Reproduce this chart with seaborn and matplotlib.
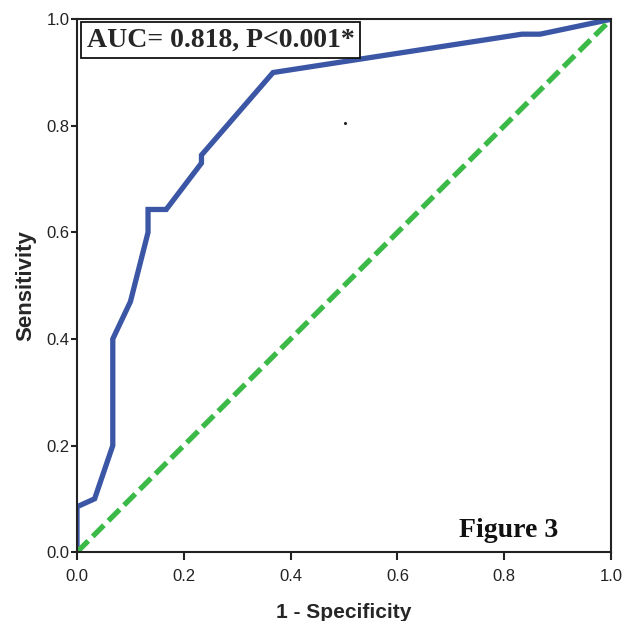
import matplotlib
matplotlib.use("Agg")
import matplotlib.pyplot as plt
import seaborn as sns
import pandas as pd

fpr = [0.0, 0.0, 0.033, 0.067, 0.067, 0.100, 0.133, 0.133, 0.167, 0.233, 0.233, 0.367, 0.833, 0.867, 1.0]
tpr = [0.0, 0.085, 0.100, 0.200, 0.400, 0.470, 0.600, 0.643, 0.643, 0.730, 0.745, 0.900, 0.972, 0.972, 1.0]
ref_x = [0.0, 1.0]
ref_y = [0.0, 1.0]
dot_x = [0.502]
dot_y = [0.806]
ticks = [0.0, 0.2, 0.4, 0.6, 0.8, 1.0]
tick_labels = ["0.0", "0.2", "0.4", "0.6", "0.8", "1.0"]

sns.set_style("white")
plt.rcParams['font.family'] = ['Liberation Sans', 'DejaVu Sans']

fig = plt.figure(figsize=(6.23, 6.21), dpi=100)
ax = fig.add_axes([0.1236, 0.111, 0.8574, 0.858])

roc = pd.DataFrame({"fpr": fpr, "tpr": tpr})
sns.lineplot(data=roc, x="fpr", y="tpr", ax=ax, color="#3c56a6", lw=3.8,
             sort=False, estimator=None, solid_joinstyle="miter")
ax.plot(ref_x, ref_y, color="#3cba48", lw=3.8, linestyle=(0, (3.0, 1.2)))
ax.scatter(dot_x, dot_y, s=1.5, color="#222222", zorder=3)

ax.set_xlim(0, 1)
ax.set_ylim(0, 1)
ax.set_xticks(ticks)
ax.set_xticklabels(tick_labels)
ax.set_yticks(ticks)
ax.set_yticklabels(tick_labels)
ax.tick_params(axis="both", which="both", direction="out", width=1.5,
               color="#222222", labelsize=12, labelcolor="#222222",
               bottom=True, left=True, top=False, right=False)
ax.tick_params(axis="x", length=6, pad=6)
ax.tick_params(axis="y", length=4.5, pad=1)
for s in ax.spines.values():
    s.set_color("#222222")
    s.set_linewidth(1.5)

ax.set_xlabel("1 - Specificity", fontsize=15, fontweight="bold", labelpad=14)
ax.set_ylabel("Sensitivity", fontsize=16, fontweight="bold", labelpad=7)

ax.text(0.0187, 0.9606, "AUC= 0.818, P<0.001*", transform=ax.transAxes,
        family=["Liberation Serif"], fontweight="bold", fontsize=20,
        va="center", ha="left",
        bbox=dict(boxstyle="square,pad=0.2", fc="white", ec="#111111", lw=1.3))
ax.text(0.808, 0.04, "Figure 3", transform=ax.transAxes,
        family=["Liberation Serif"], fontweight="bold", fontsize=20,
        va="center", ha="center", color="#111111")

fig.savefig("out.png", dpi=100)
